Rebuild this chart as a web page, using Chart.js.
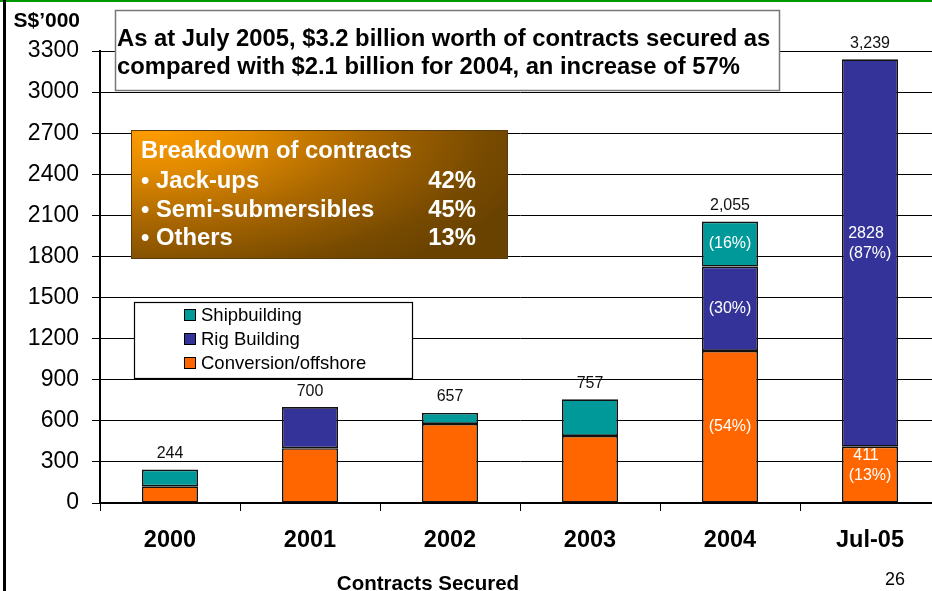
<!DOCTYPE html>
<html>
<head>
<meta charset="utf-8">
<script src="https://cdn.jsdelivr.net/npm/chart.js@4/dist/chart.umd.min.js"></script>
<style>
  html, body { margin:0; padding:0; background:#fff; overflow:hidden; }
  #wrap { position:absolute; left:0; top:0; width:940px; height:591px; }
</style>
</head>
<body>
<div id="wrap"><canvas id="contractsChart" width="940" height="591"></canvas></div>
<script>
// contracts secured per period (S$'000)
const periods    = ["2000", "2001", "2002", "2003", "2004", "Jul-05"];
const conversion = [122, 400, 577, 490, 1110, 411];
const rigBuilding = [null, 300, null, null, 616, 2828];
const shipbuilding = [122, null, 80, 267, 329, null];

const yTicks = [0, 300, 600, 900, 1200, 1500, 1800, 2100, 2400, 2700, 3000, 3300];

const headline = [
  "As at July 2005, $3.2 billion worth of contracts secured as",
  "compared with $2.1 billion for 2004, an increase of 57%"
];
const breakdownNames = ["Jack-ups", "Semi-submersibles", "Others"];
const breakdownShares = ["42%", "45%", "13%"];

// which segments get a white label inside the bar
const showPct = {
  conv: [false, false, false, false, true, true],
  rig:  [false, false, false, false, true, true],
  ship: [false, false, false, false, true, false]
};
const showValue = {
  conv: [false, false, false, false, false, true],
  rig:  [false, false, false, false, false, true],
  ship: [false, false, false, false, false, false]
};

const FONT = "Arial, 'Liberation Sans', sans-serif";

const totals = periods.map((p, i) =>
  (conversion[i] || 0) + (rigBuilding[i] || 0) + (shipbuilding[i] || 0));

// =============================
// extra drawing: frame, boxes, labels
// =============================
const slideDecor = {
  id: "slideDecor",
  afterDraw(chart) {
    const ctx = chart.ctx;
    ctx.save();

    // slide frame
    ctx.fillStyle = "#009900";
    ctx.fillRect(0, 0, 940, 2);
    ctx.fillStyle = "#000";
    ctx.fillRect(3, 0, 3, 591);

    // unit label
    ctx.fillStyle = "#000";
    ctx.font = "bold 21px " + FONT;
    ctx.textAlign = "right";
    ctx.textBaseline = "alphabetic";
    ctx.fillText("S$\u2019000", 80, 27);

    // headline box
    ctx.fillStyle = "#fff";
    ctx.fillRect(115, 10, 664, 80);
    ctx.strokeStyle = "#777";
    ctx.lineWidth = 1.5;
    ctx.strokeRect(115.5, 10.5, 664, 80);
    ctx.fillStyle = "#000";
    ctx.font = "bold 23.8px " + FONT;
    ctx.textAlign = "left";
    ctx.fillText(headline[0], 117, 46);
    ctx.fillText(headline[1], 117, 74);

    // breakdown box with orange-brown gradient
    const bx = 131, by = 130, bw = 376, bh = 128;
    ctx.save();
    ctx.translate(bx, by);
    ctx.scale(1, 0.42);
    const g = ctx.createRadialGradient(20, 0, 0, 20, 0, 400);
    g.addColorStop(0, "#FF9C00");
    g.addColorStop(0.25, "#E08A00");
    g.addColorStop(0.55, "#A86600");
    g.addColorStop(0.85, "#774A00");
    g.addColorStop(1, "#6A4200");
    ctx.fillStyle = g;
    ctx.fillRect(0, 0, bw, bh / 0.42);
    ctx.restore();
    ctx.strokeStyle = "#5a3a10";
    ctx.lineWidth = 1;
    ctx.strokeRect(bx + 0.5, by + 0.5, bw, bh);

    ctx.fillStyle = "#fff";
    ctx.font = "bold 23.8px " + FONT;
    ctx.textAlign = "left";
    ctx.fillText("Breakdown of contracts", 141, 158);
    breakdownNames.forEach((name, i) => {
      const yy = 188 + i * 28.7;
      ctx.textAlign = "left";
      ctx.fillText("\u2022 " + name, 141, yy);
      ctx.textAlign = "right";
      ctx.fillText(breakdownShares[i], 476, yy);
    });

    // legend box
    ctx.fillStyle = "#fff";
    ctx.fillRect(134, 302, 278, 76);
    ctx.strokeStyle = "#000";
    ctx.lineWidth = 1.2;
    ctx.strokeRect(134.5, 302.5, 278, 76);
    const rows = [2, 1, 0];
    ctx.font = "18.5px " + FONT;
    ctx.textAlign = "left";
    ctx.textBaseline = "middle";
    rows.forEach((di, r) => {
      const ds = chart.data.datasets[di];
      const cy = 315 + r * 24;
      ctx.fillStyle = ds.backgroundColor;
      ctx.fillRect(184, cy - 6, 12, 12);
      ctx.strokeStyle = "#000";
      ctx.lineWidth = 1;
      ctx.strokeRect(184.5, cy - 5.5, 11, 11);
      ctx.fillStyle = "#000";
      ctx.fillText(ds.label, 201, cy + 1);
    });

    // totals above bars
    const topMeta = chart.getDatasetMeta(0);
    const yScale = chart.scales.y;
    ctx.font = "16px " + FONT;
    ctx.textAlign = "center";
    ctx.fillStyle = "#111";
    totals.forEach((t, i) => {
      const x = topMeta.data[i].x;
      const y = yScale.getPixelForValue(t);
      ctx.fillText(t.toLocaleString("en-US"), x, y - 16);
    });

    // white labels inside segments
    const keys = ["conv", "rig", "ship"];
    ctx.fillStyle = "#fff";
    chart.data.datasets.forEach((ds, di) => {
      const meta = chart.getDatasetMeta(di);
      ds.data.forEach((v, i) => {
        if (v == null || !showPct[keys[di]][i]) return;
        const bar = meta.data[i];
        const pct = "(" + Math.round(v / totals[i] * 100) + "%)";
        const mid = (bar.y + bar.base) / 2;
        if (showValue[keys[di]][i]) {
          ctx.fillText(String(v), bar.x - 4, mid - 19);
          ctx.fillText(pct, bar.x, mid + 1);
        } else {
          ctx.fillText(pct, bar.x, mid);
        }
      });
    });

    // axis title and page number
    ctx.fillStyle = "#000";
    ctx.textBaseline = "alphabetic";
    ctx.font = "bold 20.5px " + FONT;
    ctx.fillText("Contracts Secured", 428, 590);
    ctx.font = "18px " + FONT;
    ctx.fillText("26", 895, 585);

    ctx.restore();
  }
};

new Chart(document.getElementById("contractsChart"), {
  type: "bar",
  data: {
    labels: periods,
    datasets: [
      { label: "Conversion/offshore", data: conversion, backgroundColor: "#FF6600" },
      { label: "Rig Building", data: rigBuilding, backgroundColor: "#333399" },
      { label: "Shipbuilding", data: shipbuilding, backgroundColor: "#009999" }
    ].map(d => Object.assign(d, {
      borderColor: "#111",
      borderWidth: 1.6,
      borderSkipped: false,
      barPercentage: 0.4,
      categoryPercentage: 1
    }))
  },
  options: {
    responsive: false,
    animation: false,
    layout: { padding: { top: 51, right: 0, left: 0, bottom: 0 } },
    plugins: {
      legend: { display: false },
      tooltip: { enabled: false }
    },
    scales: {
      x: {
        stacked: true,
        offset: true,
        grid: {
          offset: true,
          drawOnChartArea: false,
          drawTicks: true,
          tickLength: 8,
          color: "#000"
        },
        border: { color: "#000", width: 1.5 },
        ticks: {
          color: "#000",
          padding: 15,
          font: { family: FONT, size: 23.5, weight: "bold" }
        },
        afterFit(scale) { scale.height = 88; }
      },
      y: {
        stacked: true,
        min: 0,
        max: 3300,
        afterBuildTicks(scale) { scale.ticks = yTicks.map(v => ({ value: v })); },
        grid: { color: "#000", lineWidth: 1, tickLength: 8 },
        border: { color: "#000", width: 2 },
        ticks: {
          color: "#000",
          padding: 13,
          font: { family: FONT, size: 23 },
          callback: v => String(v)
        },
        afterFit(scale) { scale.width = 100; }
      }
    }
  },
  plugins: [slideDecor]
});
</script>
</body>
</html>
